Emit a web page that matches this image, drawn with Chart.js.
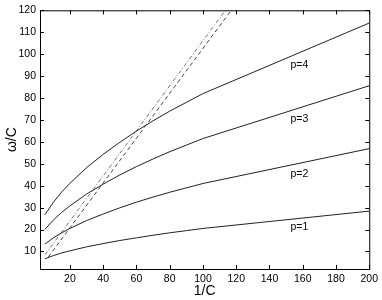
<!DOCTYPE html>
<html>
<head>
<meta charset="utf-8">
<script src="https://cdn.jsdelivr.net/npm/chart.js@4"></script>
<style>
  html, body { margin: 0; padding: 0; background: #fff; }
  #wrap { width: 382px; height: 300px; }
</style>
</head>
<body>
<div id="wrap"><canvas id="chart"></canvas></div>
<script>
// values
const xs = [5, 10, 15, 20, 30, 40, 50, 60, 70, 80, 90, 100, 200];
const p1 = [6.7, 8.1, 9.3, 10.3, 12.1, 13.6, 15.0, 16.2, 17.4, 18.5, 19.5, 20.5, 28.4];
const p2 = [13.4, 16.2, 18.5, 20.5, 24.1, 27.1, 29.9, 32.5, 34.8, 37.0, 39.0, 41.0, 56.9];
const p3 = [20.1, 24.3, 27.8, 30.8, 36.2, 40.7, 44.9, 48.7, 52.2, 55.5, 58.5, 61.5, 85.6];
const p4 = [26.8, 32.4, 37.1, 41.1, 48.2, 54.3, 59.8, 64.9, 69.6, 74.0, 78.0, 82.0, 114.2];

const dashX = [7, 117];
const dashY = [7.5, 120];
const dotX = [5, 113.5];
const dotY = [8.5, 120];

const xTicks = [20, 40, 60, 80, 100, 120, 140, 160, 180, 200];
const yTicks = [10, 20, 30, 40, 50, 60, 70, 80, 90, 100, 110, 120];

const labelText = ['p=1', 'p=2', 'p=3', 'p=4'];
const labelX = [158, 158, 158, 158];
const labelY = [21, 45.5, 70.5, 95];

const pts = (xv, yv) => xv.map((x, i) => ({ x, y: yv[i] }));
const FONT = "'Liberation Sans', Arial, Helvetica, sans-serif";

const curve = (label, yv) => ({
  label,
  data: pts(xs, yv),
  showLine: true,
  borderColor: '#222',
  borderWidth: 1,
  pointRadius: 0,
  tension: 0
});

// box + inward ticks like the original plot
const frame = {
  id: 'frame',
  afterDraw(chart) {
    const { ctx, chartArea: a, scales: { x, y } } = chart;
    ctx.save();
    ctx.strokeStyle = '#000';
    ctx.lineWidth = 1;
    ctx.strokeRect(a.left + 0.5, a.top + 0.5, a.right - a.left, a.bottom - a.top);
    ctx.beginPath();
    xTicks.forEach(v => {
      const px = Math.round(x.getPixelForValue(v)) + 0.5;
      ctx.moveTo(px, a.bottom); ctx.lineTo(px, a.bottom - 4);
      ctx.moveTo(px, a.top); ctx.lineTo(px, a.top + 4);
    });
    yTicks.forEach(v => {
      const py = Math.round(y.getPixelForValue(v)) + 0.5;
      ctx.moveTo(a.left, py); ctx.lineTo(a.left + 4, py);
      ctx.moveTo(a.right, py); ctx.lineTo(a.right - 4, py);
    });
    ctx.stroke();

    ctx.fillStyle = '#000';
    ctx.font = '10.5px ' + FONT;
    ctx.textAlign = 'center';
    ctx.textBaseline = 'middle';
    labelText.forEach((t, i) => {
      ctx.fillText(t, x.getPixelForValue(labelX[i]), y.getPixelForValue(labelY[i]));
    });
    ctx.restore();
  }
};

new Chart(document.getElementById('chart'), {
  type: 'scatter',
  data: {
    datasets: [
      curve('p=1', p1),
      curve('p=2', p2),
      curve('p=3', p3),
      curve('p=4', p4),
      {
        label: 'dash',
        data: pts(dashX, dashY),
        showLine: true,
        borderColor: '#444',
        borderWidth: 1,
        borderDash: [4, 3],
        pointRadius: 0
      },
      {
        label: 'dashdot',
        data: pts(dotX, dotY),
        showLine: true,
        borderColor: '#777',
        borderWidth: 1,
        borderDash: [4, 2, 1, 2],
        pointRadius: 0
      }
    ]
  },
  options: {
    responsive: true,
    maintainAspectRatio: false,
    animation: false,
    layout: { padding: { left: 0, right: 12, top: 10, bottom: 0 } },
    plugins: { legend: { display: false }, tooltip: { enabled: false } },
    scales: {
      x: {
        type: 'linear',
        min: 2,
        max: 200,
        afterBuildTicks: s => { s.ticks = xTicks.map(v => ({ value: v })); },
        afterFit: s => { s.height = 31; },
        grid: { display: false, drawTicks: false },
        border: { display: false },
        ticks: { color: '#000', font: { family: FONT, size: 10.5 }, padding: 4, maxRotation: 0, autoSkip: false },
        title: { display: true, text: '1/C', color: '#000', font: { family: FONT, size: 14 }, padding: { top: 0, bottom: 0 } }
      },
      y: {
        type: 'linear',
        min: 2,
        max: 120,
        afterBuildTicks: s => { s.ticks = yTicks.map(v => ({ value: v })); },
        afterFit: s => { s.width = 40; },
        grid: { display: false, drawTicks: false },
        border: { display: false },
        ticks: { color: '#000', font: { family: FONT, size: 10.5 }, padding: 4, autoSkip: false },
        title: { display: true, text: 'ω/C', color: '#000', font: { family: FONT, size: 14 }, padding: { top: 4, bottom: 0 } }
      }
    }
  },
  plugins: [frame]
});
</script>
</body>
</html>
